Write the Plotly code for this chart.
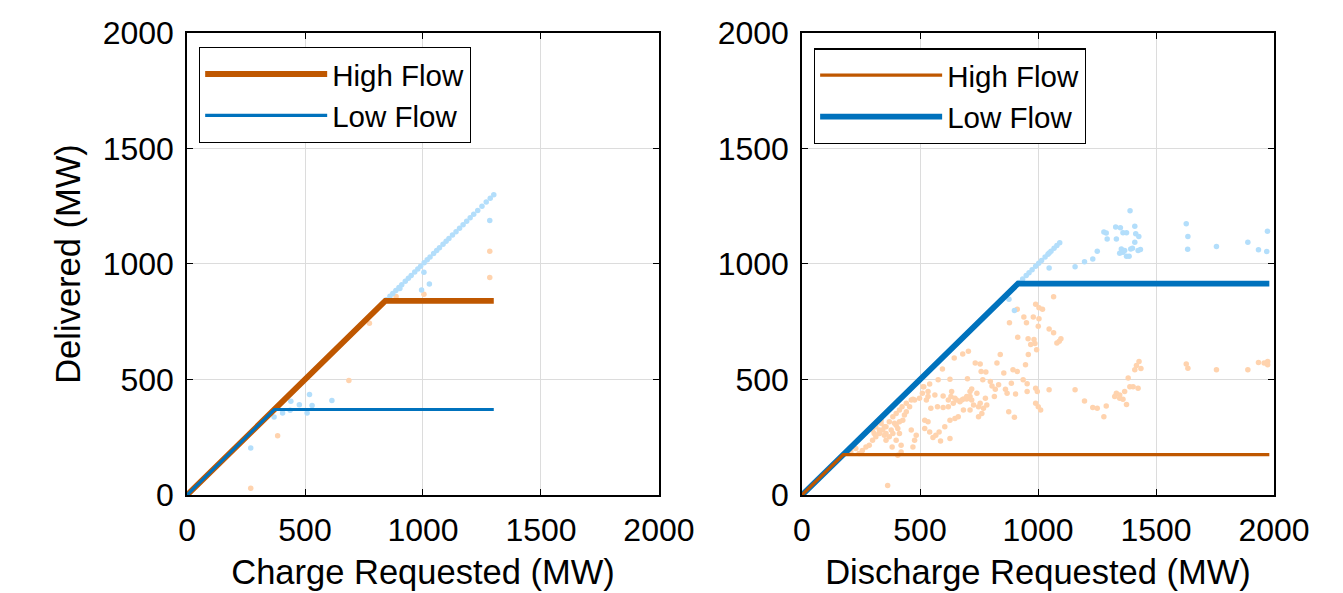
import plotly.graph_objects as go

# ---------------- data ----------------
ticks = [0, 500, 1000, 1500, 2000]

# Charge panel: limit lines
charge_high_x = [0, 840, 1300]
charge_high_y = [0, 840, 840]
charge_low_x = [0, 370, 1300]
charge_low_y = [0, 370, 370]

# Charge panel: scatter (observations)
charge_lowpts_x = [845, 860, 872, 885, 898, 910, 925, 938, 950, 965, 978, 990, 1005, 1018, 1030,
                   1045, 1058, 1070, 1085, 1098, 1110, 1125, 1140, 1155, 1170, 1185, 1200, 1215,
                   1232, 1250, 1268, 1285, 1300,
                   270, 369, 405, 437, 440, 476, 509, 519, 530, 614, 902, 994, 1004, 1027, 1283]
charge_lowpts_y = [845, 860, 872, 885, 898, 910, 925, 938, 950, 965, 978, 990, 1005, 1018, 1030,
                   1045, 1058, 1070, 1085, 1098, 1110, 1125, 1140, 1155, 1170, 1185, 1200, 1215,
                   1232, 1250, 1268, 1285, 1300,
                   203, 338, 355, 367, 406, 391, 355, 435, 387, 409, 894, 887, 964, 913, 1188]
charge_highpts_x = [270, 384, 686, 773, 886, 1004, 1283, 1283]
charge_highpts_y = [29, 256, 496, 743, 859, 869, 1055, 942]

# Discharge panel: limit lines
dis_high_x = [0, 175, 1980]
dis_high_y = [0, 175, 175]
dis_low_x = [0, 915, 1980]
dis_low_y = [0, 915, 915]

# Discharge panel: scatter (observations)
dis_lowpts_x = [920, 935, 950, 962, 975, 990, 1003, 1015, 1030, 1042, 1055, 1068, 1080, 1092,
                877, 900, 1390, 1628, 1635, 1634, 1756, 1889, 1934, 1969, 1972, 1047, 1047, 1157,
                1197, 1232, 1251, 1279, 1289, 1293, 1329, 1349, 1360, 1375, 1410, 1414, 1427,
                1410, 1332, 1353, 1360, 1375, 1386, 1393, 1400, 1424, 1434, 1346, 1367]
dis_lowpts_y = [920, 935, 950, 962, 975, 990, 1003, 1015, 1030, 1042, 1055, 1068, 1080, 1092,
                847, 799, 1230, 1174, 1119, 1064, 1076, 1094, 1062, 1054, 1142, 1048, 983, 988,
                1010, 1022, 1055, 1138, 1134, 1108, 1160, 1157, 1135, 1135, 1163, 1131, 1119,
                1094, 1108, 1065, 1051, 1034, 1034, 1065, 1068, 1058, 1063, 1046, 1058]
dis_highpts_x = [1066, 990, 1004, 1019, 912, 879, 940, 951, 980, 1004, 1001, 1047, 1066, 1080, 1090,
                 1097, 914, 958, 983, 969, 987, 994, 959, 840, 826, 947, 894, 912, 734, 755, 759,
                 779, 855, 705, 681, 645, 595, 577, 627, 701, 766, 798, 833, 887, 937, 954, 990,
                 997, 1047, 954, 905, 862, 869, 819, 805, 815, 777, 783, 755, 719, 712, 698, 684,
                 669, 655, 634, 631, 641, 620, 598, 574, 546, 534, 527, 510, 516, 541, 477, 463,
                 442, 424, 413, 399, 385, 370, 356, 342, 328, 313, 299, 285, 271, 256, 242, 228,
                 392, 406, 427, 434, 378, 356, 349, 370, 385, 399, 413, 463, 477, 484, 470, 420,
                 406, 420, 382, 363, 520, 534, 520, 541, 555, 567, 587, 581, 605, 627, 627, 648,
                 662, 684, 712, 727, 748, 762, 748, 769, 876, 900, 990, 1001, 1011, 1157, 1197,
                 1232, 1251, 1279, 1289, 1325, 1332, 1346, 1360, 1375, 1346, 1367, 1389, 1403,
                 1424, 1382, 1410, 1417, 1428, 1436, 1628, 1635, 1756, 1889, 1934, 1958, 1973,
                 1973, 207, 313, 328, 335, 299, 306, 349, 413, 399, 356, 335, 442, 456, 470, 498,
                 513, 534, 563, 598, 620, 648, 677, 698, 719, 741, 712]
dis_highpts_y = [858, 826, 811, 804, 804, 746, 770, 746, 770, 763, 731, 719, 702, 658, 666,
                 676, 683, 676, 673, 651, 656, 629, 608, 608, 571, 564, 542, 535, 571, 567, 535,
                 532, 528, 622, 610, 593, 545, 499, 501, 503, 499, 491, 477, 484, 499, 481, 462,
                 448, 455, 448, 437, 458, 440, 458, 472, 426, 419, 390, 397, 459, 426, 416, 416,
                 404, 411, 448, 426, 397, 382, 379, 382, 375, 426, 411, 440, 469, 480, 411, 411,
                 397, 382, 368, 353, 339, 317, 295, 281, 266, 252, 237, 215, 208, 193, 179, 201,
                 310, 288, 324, 346, 281, 266, 259, 252, 266, 302, 317, 281, 237, 259, 208, 215,
                 172, 186, 208, 41, 324, 317, 288, 273, 249, 259, 234, 273, 295, 324, 244, 331,
                 339, 368, 368, 390, 382, 353, 339, 375, 360, 336, 397, 382, 368, 455, 407,
                 379, 375, 339, 385, 426, 440, 433, 414, 392, 419, 448, 469, 469,
                 462, 506, 542, 560, 578, 547, 567, 549, 542, 542, 574, 571, 578,
                 564, 186, 295, 281, 310, 281, 266, 295, 266, 237, 237, 324, 360, 382, 414, 419,
                 469, 448, 433, 429, 411, 419, 411, 426, 411, 440, 448]

# ---------------- styles ----------------
C_HIGH = "#BF5700"
C_LOW = "#0072BD"
C_HIGH_LIGHT = "#FFD3AE"
C_LOW_LIGHT = "#B3DEFB"
FONT = "Liberation Sans, Arial, sans-serif"

fig = go.Figure()

def pts(x, y, color, xa, ya):
    fig.add_trace(go.Scatter(x=x, y=y, mode="markers", xaxis=xa, yaxis=ya,
                             marker=dict(size=5.5, color=color, line=dict(width=0)),
                             showlegend=False, hoverinfo="skip"))

# left panel
pts(charge_highpts_x, charge_highpts_y, C_HIGH_LIGHT, "x", "y")
pts(charge_lowpts_x, charge_lowpts_y, C_LOW_LIGHT, "x", "y")
fig.add_trace(go.Scatter(x=charge_high_x, y=charge_high_y, mode="lines", name="High Flow",
                         line=dict(color=C_HIGH, width=5.8), xaxis="x", yaxis="y",
                         legend="legend", legendrank=1))
fig.add_trace(go.Scatter(x=charge_low_x, y=charge_low_y, mode="lines", name="Low Flow",
                         line=dict(color=C_LOW, width=3.2), xaxis="x", yaxis="y",
                         legend="legend", legendrank=2))

# right panel
pts(dis_highpts_x, dis_highpts_y, C_HIGH_LIGHT, "x2", "y2")
pts(dis_lowpts_x, dis_lowpts_y, C_LOW_LIGHT, "x2", "y2")
fig.add_trace(go.Scatter(x=dis_low_x, y=dis_low_y, mode="lines", name="Low Flow",
                         line=dict(color=C_LOW, width=5.8), xaxis="x2", yaxis="y2",
                         legend="legend2", legendrank=2))
fig.add_trace(go.Scatter(x=dis_high_x, y=dis_high_y, mode="lines", name="High Flow",
                         line=dict(color=C_HIGH, width=3.2), xaxis="x2", yaxis="y2",
                         legend="legend2", legendrank=1))

axis_common = dict(range=[0, 2000], tickvals=ticks, ticktext=[str(t) for t in ticks],
                   showline=True, linecolor="black", linewidth=1.5, mirror="ticks",
                   ticks="inside", ticklen=6, tickwidth=1.2, tickcolor="black",
                   showgrid=True, gridcolor="#DCDCDC", gridwidth=1, zeroline=False,
                   automargin=False,
                   tickfont=dict(size=32, color="black", family=FONT))
ydom = [0.1788, 0.9578]

fig.update_layout(
    width=1343, height=593,
    margin=dict(l=0, r=0, t=0, b=0),
    paper_bgcolor="white", plot_bgcolor="white",
    font=dict(family=FONT, color="black"),
    xaxis=dict(domain=[0.1333, 0.4847], anchor="y", **axis_common, ticklabelstandoff=6,
               title=dict(text="Charge Requested (MW)", font=dict(size=34.5), standoff=13)),
    yaxis=dict(domain=ydom, anchor="x", **axis_common, ticklabelstandoff=5,
               title=dict(text="Delivered (MW)", font=dict(size=34.5), standoff=12)),
    xaxis2=dict(domain=[0.5912, 0.9427], anchor="y2", **axis_common, ticklabelstandoff=6,
                title=dict(text="Discharge Requested (MW)", font=dict(size=34.5), standoff=13)),
    yaxis2=dict(domain=ydom, anchor="x2", **axis_common, ticklabelstandoff=5),
    legend=dict(x=0.1422, y=0.934, xanchor="left", yanchor="top",
                bordercolor="black", borderwidth=1.2, bgcolor="white",
                font=dict(size=29.5, family=FONT), itemwidth=122, tracegroupgap=0),
    legend2=dict(x=0.6001, y=0.932, xanchor="left", yanchor="top",
                 bordercolor="black", borderwidth=1.2, bgcolor="white",
                 font=dict(size=29.5, family=FONT), itemwidth=122, tracegroupgap=0),
)

fig.write_html("out.html")
